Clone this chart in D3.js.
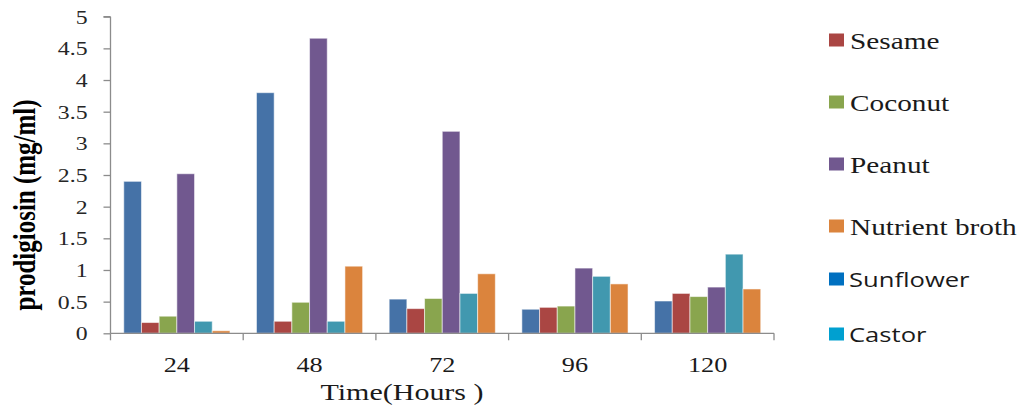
<!DOCTYPE html>
<html>
<head>
<meta charset="utf-8">
<script src="https://cdn.jsdelivr.net/npm/d3@7"></script>
<style>
  html, body { margin: 0; padding: 0; background: #fff; }
  svg { display: block; }
</style>
</head>
<body>
<svg id="chart" width="1026" height="408"></svg>
<script>
// Prodigiosin yield (mg/ml) by incubation time for each oil substrate
const categories = ["24", "48", "72", "96", "120"];
const seriesNames = ["Sunflower", "Sesame", "Coconut", "Peanut", "Castor", "Nutrient broth"];
const sunflower     = [2.40, 3.80, 0.54, 0.38, 0.51];
const sesame        = [0.17, 0.19, 0.39, 0.41, 0.63];
const coconut       = [0.27, 0.49, 0.55, 0.43, 0.58];
const peanut        = [2.52, 4.66, 3.19, 1.03, 0.73];
const castor        = [0.19, 0.19, 0.63, 0.90, 1.25];
const nutrientBroth = [0.04, 1.06, 0.94, 0.78, 0.70];
const yTicks = [0, 0.5, 1, 1.5, 2, 2.5, 3, 3.5, 4, 4.5, 5];
const legendOrder = ["Sesame", "Coconut", "Peanut", "Nutrient broth", "Sunflower", "Castor"];

const seriesValues = {
  "Sunflower": sunflower, "Sesame": sesame, "Coconut": coconut,
  "Peanut": peanut, "Castor": castor, "Nutrient broth": nutrientBroth
};
const barColor = {
  "Sunflower": "#4572A7", "Sesame": "#AA4643", "Coconut": "#89A54E",
  "Peanut": "#71588F", "Castor": "#4198AF", "Nutrient broth": "#DB843D"
};
const swatchColor = {
  "Sunflower": "#0070C0", "Sesame": "#AA4643", "Coconut": "#89A54E",
  "Peanut": "#71588F", "Castor": "#00A0D0", "Nutrient broth": "#DB843D"
};
const sansLabels = new Set(["Sunflower", "Castor"]);

const SERIF = "'Liberation Serif', 'Times New Roman', serif";
const SANS = "'Open Sans', 'Noto Sans', sans-serif";
const WIDE = 1.25; // text is set slightly wide throughout

const svg = d3.select("#chart");
const plot = { left: 110.5, right: 774, top: 16.7, bottom: 333.3 };

const x = d3.scaleBand().domain(categories).range([plot.left, plot.right]).padding(0);
const xs = d3.scaleBand().domain(seriesNames).range([0, x.bandwidth()])
  .paddingInner(0).paddingOuter(0.75);
const y = d3.scaleLinear().domain([0, 5]).range([plot.bottom, plot.top]);

// bars
const groups = svg.append("g").selectAll("g")
  .data(categories)
  .join("g")
  .attr("transform", c => `translate(${x(c)},0)`);

groups.selectAll("rect")
  .data((c, i) => seriesNames.map(s => ({ s, v: seriesValues[s][i] })))
  .join("rect")
  .attr("x", d => xs(d.s))
  .attr("width", xs.bandwidth())
  .attr("y", d => y(d.v))
  .attr("height", d => y(0) - y(d.v))
  .attr("fill", d => barColor[d.s])
  .attr("stroke", "#ffffff")
  .attr("stroke-opacity", 0.55)
  .attr("stroke-width", 1);

// y axis
const yAxis = svg.append("g")
  .attr("transform", `translate(${plot.left},0)`)
  .call(d3.axisLeft(y).tickValues(yTicks).tickSize(7).tickSizeOuter(0)
    .tickFormat(d => String(d)));
yAxis.select(".domain").attr("stroke", "#8c8c8c").attr("stroke-width", 1.3)
  .attr("d", `M0,${plot.top}H-7M0,${plot.top}V${plot.bottom}`);
yAxis.selectAll(".tick line").attr("stroke", "#8c8c8c").attr("stroke-width", 1.3);
yAxis.selectAll(".tick text")
  .attr("x", null).attr("dy", null)
  .attr("transform", `translate(-23,6.5) scale(${WIDE},1)`)
  .attr("font-family", SERIF)
  .attr("font-size", 19).attr("fill", "#262626");

// x axis: baseline, boundary ticks, centred labels
const xAxis = svg.append("g").attr("transform", `translate(0,${plot.bottom})`);
xAxis.append("line")
  .attr("x1", plot.left).attr("x2", plot.right)
  .attr("stroke", "#8c8c8c").attr("stroke-width", 1.3);
const boundaries = categories.map(c => x(c)).concat([x(categories[categories.length - 1]) + x.bandwidth()]);
xAxis.selectAll("line.tk")
  .data(boundaries)
  .join("line")
  .attr("class", "tk")
  .attr("x1", d => d).attr("x2", d => d)
  .attr("y1", 0).attr("y2", 7)
  .attr("stroke", "#8c8c8c").attr("stroke-width", 1.3);
xAxis.selectAll("text")
  .data(categories)
  .join("text")
  .attr("transform", c => `translate(${x(c) + x.bandwidth() / 2},38.5) scale(${WIDE},1)`)
  .attr("text-anchor", "middle")
  .attr("font-family", SERIF)
  .attr("font-size", 21).attr("fill", "#1a1a1a")
  .text(c => c);

// axis titles
svg.append("text")
  .attr("transform", `translate(402,400) scale(${WIDE},1)`)
  .attr("text-anchor", "middle")
  .attr("font-family", SERIF)
  .attr("font-size", 24).attr("fill", "#1a1a1a")
  .text("Time(Hours )");

svg.append("text")
  .attr("transform", `translate(35,205) rotate(-90) scale(1,${WIDE})`)
  .attr("text-anchor", "middle")
  .attr("font-family", SERIF)
  .attr("font-weight", "bold")
  .attr("font-size", 25).attr("fill", "#000")
  .text("prodigiosin (mg/ml)");

// legend
const legendY = { "Sesame": 40, "Coconut": 102, "Peanut": 164, "Nutrient broth": 226, "Sunflower": 279, "Castor": 334 };
const legend = svg.append("g").selectAll("g")
  .data(legendOrder)
  .join("g")
  .attr("transform", s => `translate(829,${legendY[s]})`);
legend.append("rect")
  .attr("x", 0).attr("y", -6.5)
  .attr("width", 15).attr("height", 13)
  .attr("fill", s => swatchColor[s]);
legend.append("text")
  .attr("transform", s => sansLabels.has(s) ? "translate(20,7.5) scale(1.28,1)" : "translate(21,8.5) scale(1.22,1)")
  .attr("font-family", s => sansLabels.has(s) ? SANS : SERIF)
  .attr("font-size", s => sansLabels.has(s) ? 20 : 24)
  .attr("fill", "#1a1a1a")
  .text(s => s);
</script>
</body>
</html>
